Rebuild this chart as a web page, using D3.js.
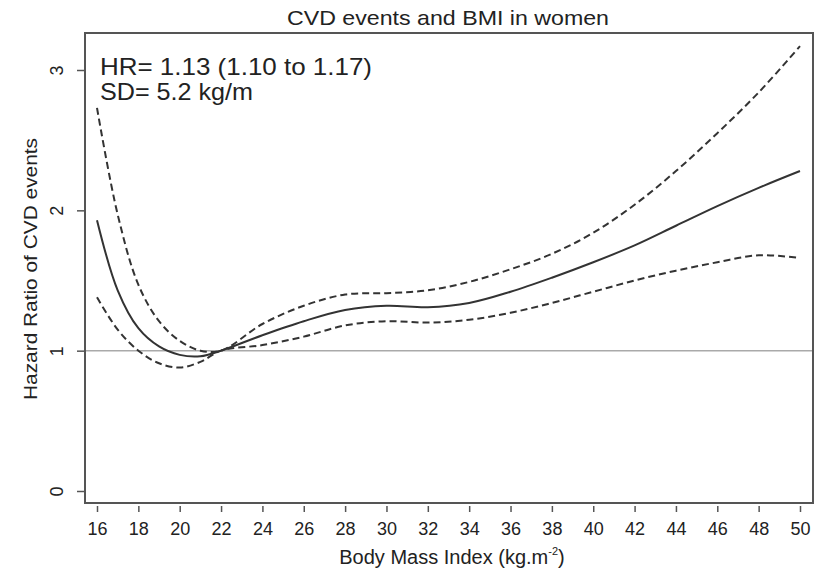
<!DOCTYPE html>
<html>
<head>
<meta charset="utf-8">
<script src="https://cdn.jsdelivr.net/npm/d3@7"></script>
<style>
  html, body { margin: 0; padding: 0; background: #fff; }
  svg { display: block; font-family: "Liberation Sans", Arial, Helvetica, sans-serif; }
</style>
</head>
<body>
<svg id="chart" width="824" height="573"></svg>
<script>
// BMI grid (kg/m²)
const bmi = [16, 17, 18, 19, 20, 21, 22, 24, 26, 28, 30, 32, 34, 36, 38, 40, 42, 44, 46, 48, 50];
// Hazard ratio estimate and 95% confidence limits
const hr      = [1.93, 1.43, 1.16, 1.03, 0.97, 0.96, 1.00, 1.11, 1.21, 1.29, 1.32, 1.31, 1.34, 1.42, 1.52, 1.63, 1.75, 1.89, 2.03, 2.16, 2.28];
const hrUpper = [2.73, 1.97, 1.47, 1.21, 1.07, 1.00, 1.00, 1.19, 1.32, 1.40, 1.41, 1.43, 1.49, 1.58, 1.69, 1.84, 2.04, 2.28, 2.55, 2.84, 3.17];
const hrLower = [1.38, 1.15, 1.00, 0.91, 0.88, 0.92, 1.00, 1.04, 1.10, 1.18, 1.21, 1.20, 1.22, 1.27, 1.34, 1.42, 1.50, 1.57, 1.63, 1.68, 1.66];
// Axis ticks
const xTicks = [16, 18, 20, 22, 24, 26, 28, 30, 32, 34, 36, 38, 40, 42, 44, 46, 48, 50];
const yTicks = [0, 1, 2, 3];

const svg = d3.select("#chart");
const box = { left: 85, right: 813, top: 33, bottom: 503 };

const x = d3.scaleLinear().domain([16, 50]).range([97, 800]);
const y = d3.scaleLinear().domain([0, 3]).range([491, 70]);

const ink = "#333";
const textInk = "#222";

// Title
svg.append("text")
  .attr("x", 448).attr("y", 25)
  .attr("text-anchor", "middle")
  .attr("font-size", 21).attr("fill", textInk)
  .attr("textLength", 322).attr("lengthAdjust", "spacingAndGlyphs")
  .text("CVD events and BMI in women");

// Reference line at HR = 1
svg.append("line")
  .attr("x1", box.left).attr("x2", box.right)
  .attr("y1", y(1)).attr("y2", y(1))
  .attr("stroke", "#aaa").attr("stroke-width", 1.5);

// Curves
const line = (vals) => d3.line()
  .x((d, i) => x(bmi[i]))
  .y(d => y(d))
  .curve(d3.curveCatmullRom.alpha(0.5))(vals);

svg.append("path").attr("d", line(hrUpper))
  .attr("fill", "none").attr("stroke", ink).attr("stroke-width", 2)
  .attr("stroke-dasharray", "7,4");
svg.append("path").attr("d", line(hrLower))
  .attr("fill", "none").attr("stroke", ink).attr("stroke-width", 2)
  .attr("stroke-dasharray", "7,4");
svg.append("path").attr("d", line(hr))
  .attr("fill", "none").attr("stroke", ink).attr("stroke-width", 2);

// Plot frame
svg.append("rect")
  .attr("x", box.left).attr("y", box.top)
  .attr("width", box.right - box.left).attr("height", box.bottom - box.top)
  .attr("fill", "none").attr("stroke", "#555").attr("stroke-width", 2);

// X axis
const xAxis = svg.append("g")
  .attr("transform", `translate(0,${box.bottom + 3})`)
  .call(d3.axisBottom(x).tickValues(xTicks).tickSize(6).tickPadding(10).tickFormat(d3.format("d")));
xAxis.select(".domain").remove();
xAxis.selectAll(".tick line").attr("stroke", "#555").attr("stroke-width", 1.5);
xAxis.selectAll(".tick text").attr("font-size", 18).attr("fill", textInk)
  .attr("font-family", "Liberation Sans, Arial, sans-serif");

// Y axis
const yAxis = svg.append("g")
  .attr("transform", `translate(${box.left},0)`)
  .call(d3.axisLeft(y).tickValues(yTicks).tickSize(8).tickPadding(0).tickFormat(d3.format("d")));
yAxis.select(".domain").remove();
yAxis.selectAll(".tick line").attr("stroke", "#555").attr("stroke-width", 1.5);
yAxis.selectAll(".tick text")
  .attr("font-size", 18).attr("fill", textInk)
  .attr("font-family", "Liberation Sans, Arial, sans-serif")
  .attr("text-anchor", "middle")
  .attr("dy", null)
  .attr("x", null)
  .attr("transform", "translate(-28,0) rotate(-90)")
  .attr("dominant-baseline", "central");

// Axis titles
const xt = svg.append("text")
  .attr("x", 452).attr("y", 564)
  .attr("text-anchor", "middle")
  .attr("font-size", 20).attr("fill", textInk);
xt.append("tspan").text("Body Mass Index (kg.m");
xt.append("tspan").attr("font-size", 11).attr("dy", -9).text("-2");
xt.append("tspan").attr("dy", 9).text(")");

svg.append("text")
  .attr("transform", "translate(37,269) rotate(-90)")
  .attr("text-anchor", "middle")
  .attr("font-size", 19).attr("fill", textInk)
  .attr("textLength", 262).attr("lengthAdjust", "spacingAndGlyphs")
  .text("Hazard Ratio of CVD events");

// Annotation
svg.append("text")
  .attr("x", 100).attr("y", 75)
  .attr("font-size", 24).attr("fill", textInk)
  .attr("textLength", 272).attr("lengthAdjust", "spacingAndGlyphs")
  .text("HR= 1.13 (1.10 to 1.17)");
svg.append("text")
  .attr("x", 100).attr("y", 100)
  .attr("font-size", 24).attr("fill", textInk)
  .attr("textLength", 153).attr("lengthAdjust", "spacingAndGlyphs")
  .text("SD= 5.2 kg/m");
</script>
</body>
</html>
